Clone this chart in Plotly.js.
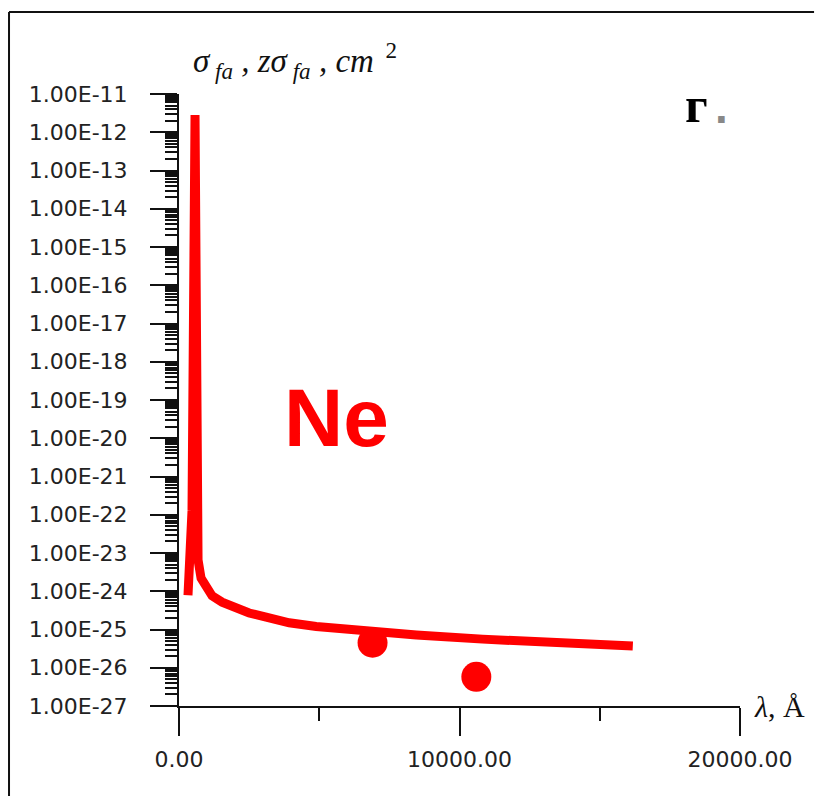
<!DOCTYPE html>
<html>
<head>
<meta charset="utf-8">
<script src="https://cdn.plot.ly/plotly-3.0.1.min.js"></script>
<style>html,body{margin:0;padding:0;background:#fff;overflow:hidden;}</style>
</head>
<body>
<div id="chart" style="width:815px;height:796px;"></div>
<script>
// Curve: cross-section vs wavelength (Angstrom)
const lambdaCurve = [321, 393, 464, 571, 679, 786, 964, 1179, 1536, 2036, 2500, 3107, 3929, 4893, 6679, 8464, 10821, 13214, 16179];
const sigmaCurve  = [7.9e-25, 8.9e-24, 1.3e-22, 2.8e-12, 6.6e-24, 2.2e-24, 1.2e-24, 7.6e-25, 5.2e-25, 3.6e-25, 2.7e-25, 2.1e-25, 1.5e-25, 1.2e-25, 9.1e-26, 7.2e-26, 5.6e-26, 4.7e-26, 3.7e-26];
// Separate points
const lambdaPts = [6900, 10600];
const sigmaPts  = [4.5e-26, 5.8e-27];
// Axis ticks
const xTickVals = [0, 10000, 20000];
const xTickText = ['0.00', '10000.00', '20000.00'];
const yTickVals = [1e-11,1e-12,1e-13,1e-14,1e-15,1e-16,1e-17,1e-18,1e-19,1e-20,1e-21,1e-22,1e-23,1e-24,1e-25,1e-26,1e-27];
const yTickText = ['1.00E-11','1.00E-12','1.00E-13','1.00E-14','1.00E-15','1.00E-16','1.00E-17','1.00E-18','1.00E-19','1.00E-20','1.00E-21','1.00E-22','1.00E-23','1.00E-24','1.00E-25','1.00E-26','1.00E-27'];

const traces = [
  {x: lambdaCurve, y: sigmaCurve, mode: 'lines', type: 'scatter',
   line: {color: '#ff0000', width: 9}, cliponaxis: false, showlegend: false},
  {x: lambdaPts, y: sigmaPts, mode: 'markers', type: 'scatter',
   marker: {color: '#ff0000', size: 30}, cliponaxis: false, showlegend: false}
];

const tickFont = {family: 'DejaVu Sans', size: 22, color: '#222'};

const layout = {
  width: 815, height: 796,
  margin: {l: 179, r: 75, t: 94, b: 90},
  paper_bgcolor: '#fff', plot_bgcolor: '#fff',
  showlegend: false,
  xaxis: {
    range: [0, 20000], tickmode: 'array', tickvals: xTickVals, ticktext: xTickText,
    ticks: 'outside', ticklen: 28, tickwidth: 2, tickcolor: '#111',
    showline: true, linecolor: '#111', linewidth: 2,
    showgrid: false, zeroline: false, tickfont: tickFont, ticklabelstandoff: 5,
    minor: {tickmode: 'array', tickvals: [5000, 15000], ticks: 'outside', ticklen: 13, tickwidth: 2, tickcolor: '#111', showgrid: false}
  },
  yaxis: {
    type: 'log', range: [-27, -11], tickmode: 'array', tickvals: yTickVals, ticktext: yTickText,
    ticks: 'outside', ticklen: 27, tickwidth: 2, tickcolor: '#111',
    showline: true, linecolor: '#111', linewidth: 2,
    showgrid: false, zeroline: false, tickfont: tickFont, ticklabelstandoff: 18,
    minor: {dtick: 'D1', ticks: 'outside', ticklen: 12, tickwidth: 2, tickcolor: '#111', showgrid: false}
  },
  shapes: [
    {type: 'line', xref: 'paper', yref: 'paper', x0: -0.303, x1: 1.132, y0: 1.134, y1: 1.134,
     line: {color: '#111', width: 2}},
    {type: 'line', xref: 'paper', yref: 'paper', x0: -0.303, x1: -0.303, y0: -0.16, y1: 1.134,
     line: {color: '#111', width: 2}}
  ],
  annotations: [
    {xref: 'paper', yref: 'paper', x: 0.2816, y: 0.4706, xanchor: 'center', yanchor: 'middle',
     text: '<b>Ne</b>', showarrow: false,
     font: {family: 'Liberation Sans, Arial', size: 82, color: '#ff0000'}},
    {xref: 'paper', yref: 'paper', x: 0.8984, y: 0.982, xanchor: 'left', yanchor: 'middle',
     text: '<b>г</b>', showarrow: false,
     font: {family: 'Liberation Serif', size: 50, color: '#000'}},
    {xref: 'paper', yref: 'paper', x: 0.952, y: 0.978, xanchor: 'left', yanchor: 'middle',
     text: '<b>.</b>', showarrow: false,
     font: {family: 'Liberation Sans', size: 46, color: '#888'}},
    {xref: 'paper', yref: 'paper', x: 0.022, y: 1.055, xanchor: 'left', yanchor: 'middle',
     text: '<i>σ</i><sub><i> fa</i></sub><i> , zσ</i><sub><i> fa</i></sub><i> , cm</i><sup>  2</sup>', showarrow: false,
     font: {family: 'Liberation Serif', size: 33, color: '#111'}},
    {xref: 'paper', yref: 'paper', x: 1.0214, y: 0.0, xanchor: 'left', yanchor: 'middle',
     text: '<i>λ</i>, Å', showarrow: false,
     font: {family: 'Liberation Serif', size: 30, color: '#111'}}
  ]
};

Plotly.newPlot('chart', traces, layout, {displayModeBar: false, staticPlot: true});
</script>
</body>
</html>
